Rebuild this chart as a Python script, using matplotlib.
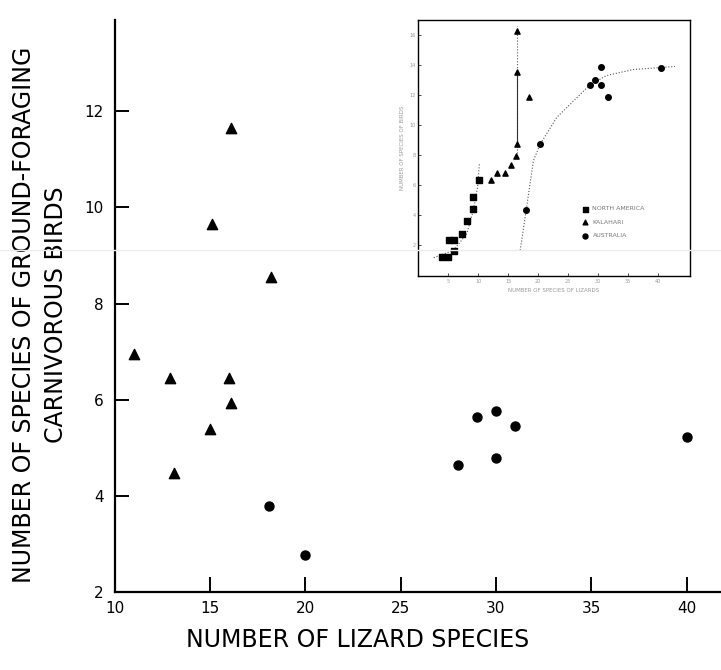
import matplotlib.pyplot as plt
import matplotlib.lines as mlines

# ---- main panel data -------------------------------------------------
kal_x = [16.1, 15.1, 18.2, 11.0, 12.9, 16.0, 16.1, 15.0, 13.1]
kal_y = [11.65, 9.65, 8.56, 6.95, 6.46, 6.46, 5.94, 5.40, 4.47]
aus_x = [18.1, 20.0, 28.0, 29.0, 30.0, 30.0, 31.0, 40.0]
aus_y = [3.79, 2.77, 4.64, 5.64, 5.76, 4.78, 5.46, 5.22]

x_ticks = [10, 15, 20, 25, 30, 35, 40]
y_ticks = [2, 4, 6, 8, 10, 12]

# ---- inset data (reproduced small figure) ----------------------------
ins_na_x = [3.9, 4.9, 5.1, 6.0, 6.0, 7.3, 8.2, 9.1, 9.1, 10.2]
ins_na_y = [1.17, 1.17, 2.33, 2.33, 1.57, 2.73, 3.55, 4.35, 5.17, 6.35]
ins_kal_x = [12.2, 13.2, 14.4, 15.5, 16.3, 16.4, 16.5, 16.5, 18.5]
ins_kal_y = [6.33, 6.77, 6.77, 7.29, 7.91, 8.73, 13.55, 16.29, 11.84]
ins_aus_x = [17.9, 20.3, 28.6, 29.5, 30.5, 30.5, 31.6, 40.5]
ins_aus_y = [4.29, 8.69, 12.67, 13.0, 13.84, 12.67, 11.84, 13.8]

na_curve_x = [2.6, 5.9, 8.1, 9.2, 9.9, 10.2]
na_curve_y = [1.13, 1.62, 2.73, 4.29, 5.84, 7.4]
aus_curve_x = [17.0, 18.0, 19.2, 20.3, 23.1, 25.9, 28.6, 31.4, 35.9, 42.8]
aus_curve_y = [1.62, 4.29, 7.6, 8.69, 10.5, 11.6, 12.67, 13.3, 13.7, 13.9]
kal_vline_x = 16.5

fig = plt.figure(figsize=(7.21, 6.70), dpi=100)
ax = fig.add_axes([0.159, 0.116, 0.841, 0.854])

ax.scatter(kal_x, kal_y, marker="^", s=55, color="black", zorder=3)
ax.scatter(aus_x, aus_y, marker="o", s=42, color="black", zorder=3)

ax.set_xlim(10, 41.8)
ax.set_ylim(2, 13.89)
ax.set_xticks(x_ticks)
ax.set_yticks(y_ticks)
ax.spines[["top", "right"]].set_visible(False)
for s in ("left", "bottom"):
    ax.spines[s].set_linewidth(1.6)
ax.tick_params(axis="x", direction="in", length=11, width=1.4,
               labelsize=11, pad=6)
ax.tick_params(axis="y", direction="in", length=10, width=1.4,
               labelsize=11, pad=8)

# axis titles placed where the reference has them
fig.text(358 / 721, 1 - 640 / 670, "NUMBER OF LIZARD SPECIES",
         fontsize=17, ha="center", va="center")
fig.text(40 / 721, 1 - 315 / 670,
         "NUMBER OF SPECIES OF GROUND-FORAGING\nCARNIVOROUS BIRDS",
         fontsize=17, rotation=90, ha="center", va="center",
         multialignment="center", linespacing=1.45)

# ---- inset ------------------------------------------------------------
ins = fig.add_axes([0.580, 0.588, 0.377, 0.382])
ins.plot(na_curve_x, na_curve_y, ls=":", lw=0.8, color="#555")
ins.plot(aus_curve_x, aus_curve_y, ls=":", lw=0.8, color="#555")
ins.plot([kal_vline_x, kal_vline_x], [7.9, 16.6], ls=":", lw=0.8, color="#555")
ins.plot([kal_vline_x, kal_vline_x], [8.7, 13.5], ls="-", lw=0.8, color="#333")
ins.scatter(ins_na_x, ins_na_y, marker="s", s=16, color="black",
            label="NORTH AMERICA", zorder=3)
ins.scatter(ins_kal_x, ins_kal_y, marker="^", s=14, color="black",
            label="KALAHARI", zorder=3)
ins.scatter(ins_aus_x, ins_aus_y, marker="o", s=16, color="black",
            label="AUSTRALIA", zorder=3)
ins.set_xlim(0, 45.3)
ins.set_ylim(-0.1, 17)
ins.set_xticks([5, 10, 15, 20, 25, 30, 35, 40])
ins.set_yticks([2, 4, 6, 8, 10, 12, 14, 16])
ins.tick_params(direction="in", length=2, width=0.5, labelsize=3.5,
                labelcolor="#999", pad=2)
for s in ins.spines.values():
    s.set_linewidth(1.0)
ins.set_xlabel("NUMBER OF SPECIES OF LIZARDS", fontsize=4, color="#999",
               labelpad=3)
ins.set_ylabel("NUMBER OF SPECIES OF BIRDS", fontsize=4, color="#999",
               labelpad=3)
ins.legend(loc="center left", bbox_to_anchor=(0.57, 0.21), frameon=False,
           fontsize=4.5, handletextpad=0.2, labelspacing=1.3,
           markerscale=0.9, labelcolor="#777")

# faint horizontal scan line across the page
fig.add_artist(mlines.Line2D([0, 1], [0.627, 0.627], transform=fig.transFigure,
                             color="#ececec", lw=1.0, zorder=10))

fig.savefig("out.png", dpi=100)
